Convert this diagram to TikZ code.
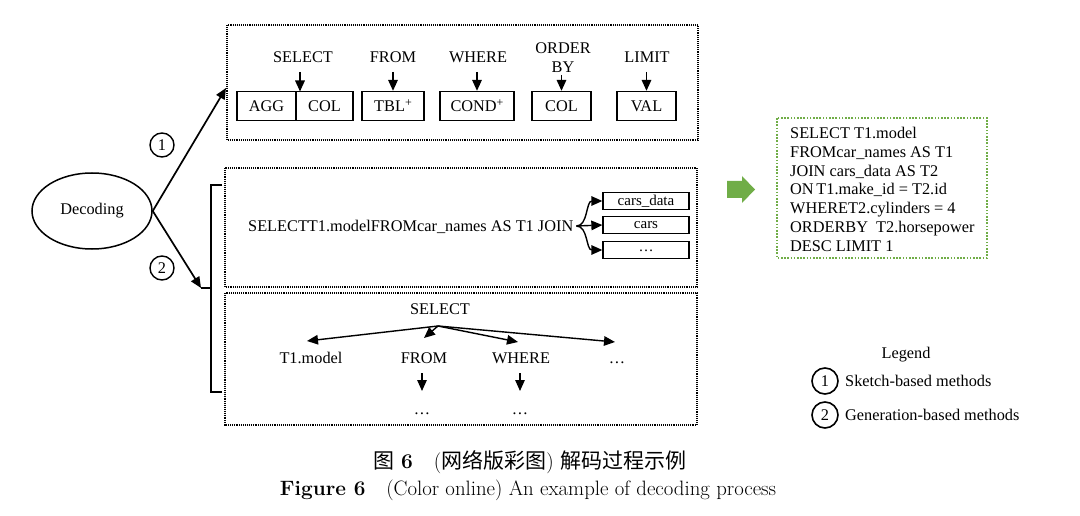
\documentclass[tikz,border=0pt]{standalone}
\usepackage{fontspec}
\newfontfamily\tnr{Liberation Serif}
\newfontfamily\cjk{Noto Sans CJK SC}
\usetikzlibrary{arrows.meta,shapes.geometric}
\definecolor{pgreen}{HTML}{70AD47}
\newcommand{\supplus}{\raisebox{5pt}{\fontsize{12}{12}\selectfont +}}
\tikzset{
  txt/.style={font=\tnr\fontsize{16.3}{18.8}\selectfont, inner sep=0pt},
  dotbox/.style={draw, line width=1.1pt, dash pattern=on 1pt off 0.9pt},
  sbox/.style={draw, line width=1.3pt, minimum height=29pt, inner sep=0pt, font=\tnr\fontsize{16.3}{18.8}\selectfont},
  jbox/.style={draw, line width=1.3pt, minimum height=17pt, minimum width=86pt, inner sep=0pt, font=\tnr\fontsize{15}{17}\selectfont},
  arr/.style={line width=1.7pt, -{Triangle[length=11pt,width=9.5pt]}},
  num/.style={draw, circle, line width=1.4pt, minimum size=24pt, inner sep=0pt, font=\tnr\fontsize{16.3}{18.8}\selectfont},
}
\begin{document}
\begin{tikzpicture}[x=1pt,y=-1pt]
\useasboundingbox (0,0) rectangle (1080,516);
% dotted boxes
\draw[dotbox] (227,25) rectangle (698,140);
\draw[dotbox] (225,168) rectangle (697,287);
\draw[dotbox] (225,293) rectangle (697,425);
% decoding
\node[draw, ellipse, line width=1.5pt, minimum width=120pt, minimum height=76pt, txt] (dec) at (92,211) {Decoding};
\coordinate (t1) at (226,88);
\coordinate (t2) at (201,288);
\draw[arr] (dec.east) -- (t1);
\draw[arr] (dec.east) -- (t2);
\node[num] (c1) at (162,145) {1};
\node[num] (c2) at (162,268) {2};
% bracket
\coordinate (bt) at (222,185);
\coordinate (bb) at (222,392);
\draw[line width=1.5pt] (t2) -- (211,288);
\draw[line width=1.5pt] (bt) -- (211,185) -- (211,392) -- (bb);
% top row
\node[sbox, minimum width=59pt] (agg) at (266.5,106) {AGG};
\node[sbox, minimum width=57pt] (col1) at (324.5,106) {COL};
\node[sbox, minimum width=62pt] (tbl) at (393,106) {TBL\supplus};
\node[sbox, minimum width=74pt] (cond) at (477,106) {COND\supplus};
\node[sbox, minimum width=59pt] (col2) at (561.5,106) {COL};
\node[sbox, minimum width=59pt] (val) at (646.5,106) {VAL};
\node[txt, anchor=base] (lsel) at (303,62.5) {SELECT};
\node[txt, anchor=base] (lfrom) at (393,62.5) {FROM};
\node[txt, anchor=base] (lwhere) at (478,62.5) {WHERE};
\node[txt, anchor=base] (lorder) at (563,53.5) {ORDER};
\node[txt, anchor=base] (lby) at (563,72.5) {BY};
\node[txt, anchor=base] (llimit) at (647,62.5) {LIMIT};
\draw[arr] (300,72) -- (300,91.5);
\draw[arr] (tbl.north |- 0,72) -- (tbl.north);
\draw[arr] (cond.north |- 0,72) -- (cond.north);
\draw[arr] (col2.north |- 0,75) -- (col2.north);
\draw[arr] (val.north |- 0,72) -- (val.north);
% middle
\node[txt, anchor=base west] (mid) at (248,231.5) {SELECTT1.modelFROMcar\_names AS T1\ JOIN};
\node[jbox] (b1) at (646,201) {cars\_data};
\node[jbox] (b2) at (646,225) {cars};
\node[jbox] (b3) at (646,250) {\raisebox{-4pt}{\dots}};
\coordinate (j) at ([xshift=3pt]mid.east |- 0,226);
\draw[arr, line width=1.4pt] (j) .. controls (588,226) and (586,201) .. (b1.west);
\draw[arr, line width=1.4pt] (j) -- (b2.west);
\draw[arr, line width=1.4pt] (j) .. controls (588,226) and (586,250) .. (b3.west);
% bottom
\node[txt, anchor=base] (bsel) at (440,314.5) {SELECT};
\coordinate (o) at (438,326);
\node[txt, anchor=base] (t1m) at (311,363.5) {T1.model};
\node[txt, anchor=base] (bfrom) at (424,363.5) {FROM};
\node[txt, anchor=base] (bwhere) at (521,363.5) {WHERE};
\node[txt, anchor=base] (bdots) at (617,363.5) {\dots};
\draw[arr, line width=1.4pt] (o) -- (307,341);
\draw[arr, line width=1.4pt] (o) -- (424,338);
\draw[arr, line width=1.4pt] (o) -- (518,342);
\draw[arr, line width=1.4pt] (o) -- (615,342);
\node[txt, anchor=base] (fd) at (422,414) {\dots};
\node[txt, anchor=base] (wd) at (520,414) {\dots};
\draw[arr, line width=1.4pt] (422,373) -- (422,391);
\draw[arr, line width=1.4pt] (520,373) -- (520,391);
% green arrow and box
\fill[pgreen] (727,181) -- (742,181) -- (742,176) -- (755,189.5) -- (742,203) -- (742,198) -- (727,198) -- cycle;
\draw[pgreen, line width=1.8pt, dash pattern=on 1.6pt off 1.6pt] (777,118) rectangle (987,258);
\foreach \t [count=\i from 0] in {SELECT T1.model, FROMcar\_names AS T1, JOIN cars\_data AS T2, ON\,T1.make\_id = T2.id, WHERET2.cylinders = 4, ORDERBY\ \ T2.horsepower, DESC LIMIT\ 1}
  \node[txt, anchor=base west] (g\i) at (790,138.5+18.8*\i) {\t};
% legend
\node[txt, anchor=base] (leg) at (906,358) {Legend};
\node[num, minimum size=26pt, line width=1.6pt] (l1) at (825,381) {1};
\node[num, minimum size=26pt, line width=1.6pt] (l2) at (825,415) {2};
\node[txt, anchor=base west] (l1t) at (845,386.5) {Sketch-based methods};
\node[txt, anchor=base west] (l2t) at (845,420.5) {Generation-based methods};
% caption
\node[anchor=base, inner sep=0pt, font=\fontsize{21}{24}\selectfont] (cap1) at (530,468) {{\cjk 图}\ \textbf{6}\quad({\cjk 网络版彩图})\ {\cjk 解码过程示例}};
\node[anchor=base, inner sep=0pt, font=\fontsize{20.8}{24}\selectfont] (cap2) at (528,495) {\textbf{Figure 6}\quad (Color online) An example of decoding process};
\end{tikzpicture}
\end{document}
